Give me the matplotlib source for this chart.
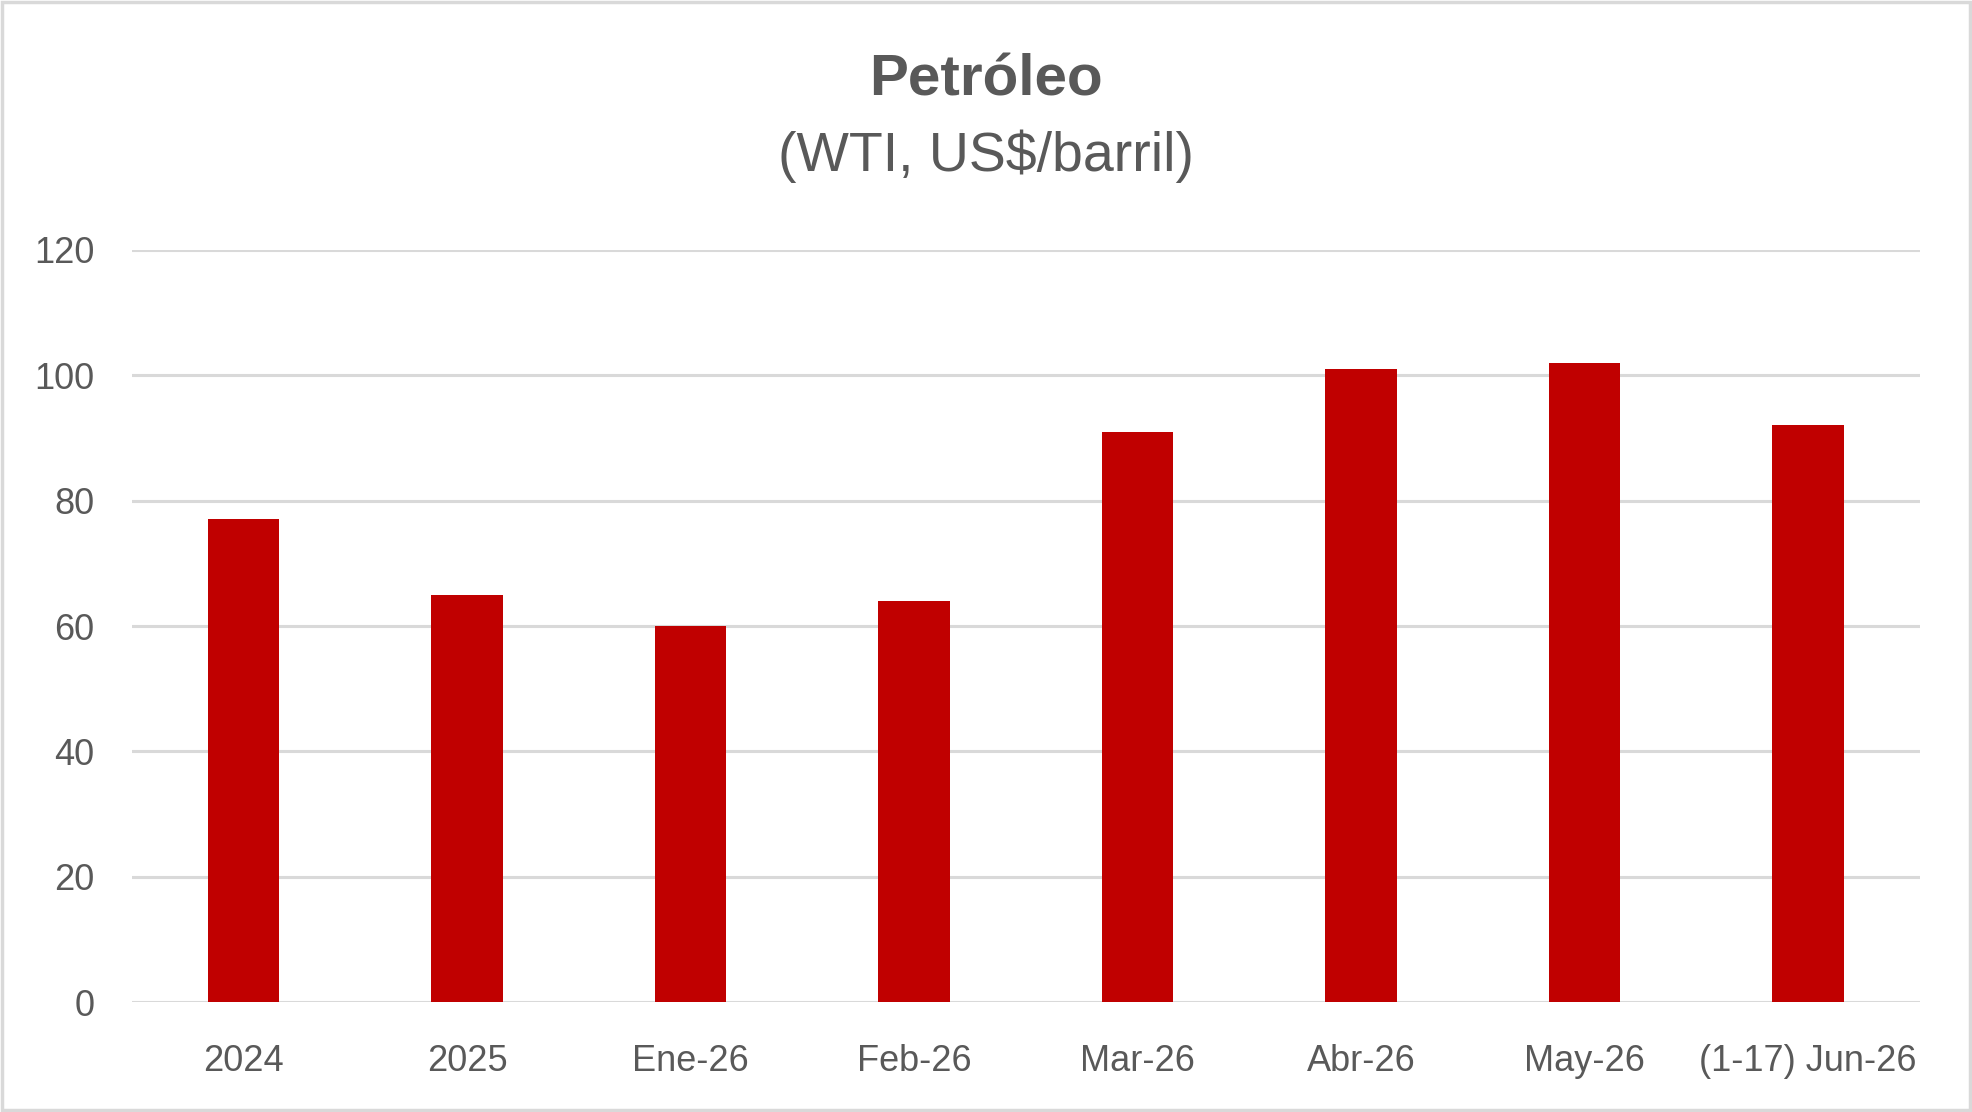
import matplotlib
matplotlib.use("Agg")
import matplotlib.pyplot as plt
from matplotlib.patches import Rectangle

categories = ["2024", "2025", "Ene-26", "Feb-26", "Mar-26", "Abr-26", "May-26", "(1-17) Jun-26"]
values = [77, 65, 60, 64, 91, 101, 102, 92]
yticks = [0, 20, 40, 60, 80, 100, 120]

plt.rcParams['font.family'] = ['Liberation Sans', 'DejaVu Sans']
grey = "#595959"

fig = plt.figure(figsize=(19.72, 11.12), dpi=100)
ax = fig.add_axes([0.0669, 0.0989, 0.9067, 0.6763])

x = list(range(len(categories)))
ax.bar(x, values, width=0.32, color="#C00000", zorder=3)
ax.set_xlim(-0.5, len(categories) - 0.5)
ax.set_ylim(0, 120)
ax.set_yticks(yticks)
ax.set_yticklabels([str(t) for t in yticks])
ax.set_xticks(x)
ax.set_xticklabels(categories)
ax.grid(axis='y', color="#D9D9D9", linewidth=2.2, zorder=0)
ax.set_axisbelow(True)
for s in ax.spines.values():
    s.set_visible(False)
ax.tick_params(axis='both', length=0, labelsize=26, colors=grey)
ax.tick_params(axis='y', pad=27)
ax.tick_params(axis='x', pad=30)

fig.text(0.5, 1 - 80 / 1112, "Petróleo", ha='center', va='center', fontsize=42,
         fontweight='bold', color=grey)
fig.text(0.5, 1 - 156 / 1112, "(WTI, US$/barril)", ha='center', va='center', fontsize=40,
         color=grey)

fig.patches.append(Rectangle((0.001, 0.002), 0.998, 0.996, transform=fig.transFigure,
                             fill=False, edgecolor="#D9D9D9", linewidth=2.5))

fig.savefig("out.png", dpi=100)
